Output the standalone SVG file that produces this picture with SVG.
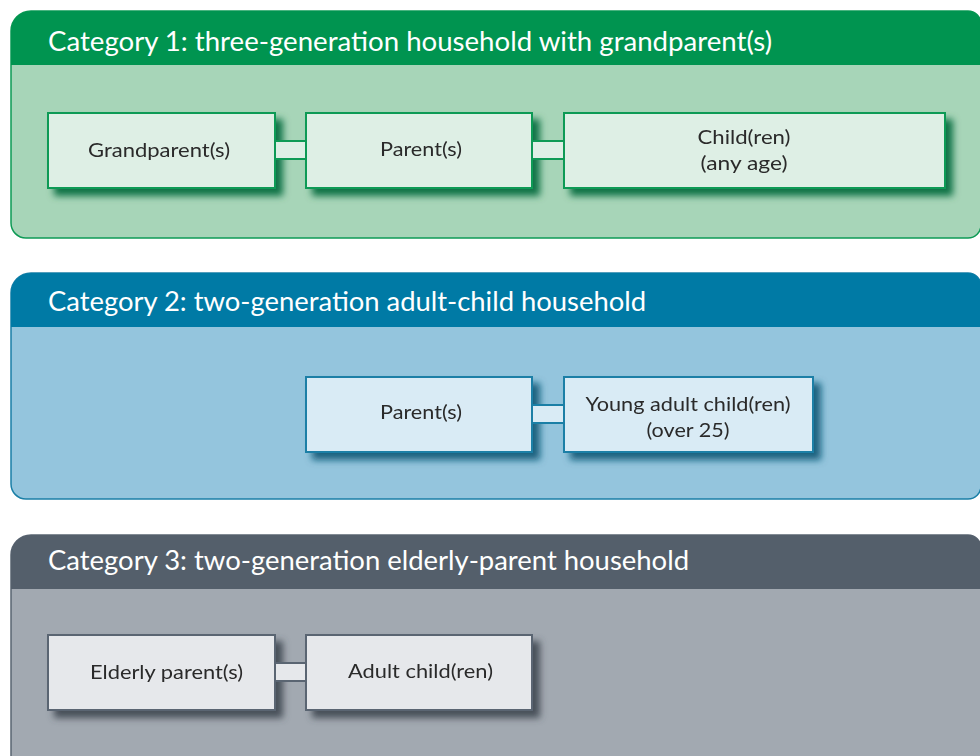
<svg xmlns="http://www.w3.org/2000/svg" width="980" height="756" viewBox="0 0 980 756">
<defs>
<style>
.title{font-family:Lato,"Open Sans","Liberation Sans",sans-serif;font-size:26px;fill:#ffffff;}
.lbl{font-family:Lato,"Open Sans","Liberation Sans",sans-serif;font-size:20px;fill:#2a2a2a;text-anchor:middle;}
.g-node{fill:#deefe5;stroke:#0e9a55;stroke-width:2;}
.b-node{fill:#d9ebf5;stroke:#1a7fa6;stroke-width:2;}
.s-node{fill:#e6e8eb;stroke:#5a6572;stroke-width:2;}
</style>
<filter id="shG" x="-10%" y="-20%" width="130%" height="160%"><feDropShadow dx="7" dy="7" stdDeviation="3.5" flood-color="#05693a" flood-opacity="0.9"/></filter>
<filter id="shB" x="-10%" y="-20%" width="130%" height="160%"><feDropShadow dx="7" dy="7" stdDeviation="3.5" flood-color="#0b5676" flood-opacity="0.9"/></filter>
<filter id="shS" x="-10%" y="-20%" width="130%" height="160%"><feDropShadow dx="7" dy="7" stdDeviation="3.5" flood-color="#3c4550" flood-opacity="0.9"/></filter>
</defs>

<!-- Panel 1 -->
<g id="panel1">
<path d="M11,31 a20,20 0 0 1 20,-20 H968 a13,13 0 0 1 13,13 V225 a13,13 0 0 1 -13,13 H26 a15,15 0 0 1 -15,-15 Z" fill="#a7d5b8" stroke="#0e9a55" stroke-width="1.5"/>
<path d="M11,65 V31 a20,20 0 0 1 20,-20 H968 a13,13 0 0 1 13,13 V65 Z" fill="#009450"/>
<text class="title" x="48" y="51" textLength="724" lengthAdjust="spacingAndGlyphs">Category 1: three-generation household with grandparent(s)</text>
</g>

<!-- Panel 2 -->
<g id="panel2">
<path d="M11,293 a20,20 0 0 1 20,-20 H968 a13,13 0 0 1 13,13 V486 a13,13 0 0 1 -13,13 H26 a15,15 0 0 1 -15,-15 Z" fill="#94c5dd" stroke="#1a7fa6" stroke-width="1.5"/>
<path d="M11,327 V293 a20,20 0 0 1 20,-20 H968 a13,13 0 0 1 13,13 V327 Z" fill="#007aa5"/>
<text class="title" x="48" y="311" textLength="598" lengthAdjust="spacingAndGlyphs">Category 2: two-generation adult-child household</text>
</g>

<!-- Panel 3 -->
<g id="panel3">
<path d="M11,555 a20,20 0 0 1 20,-20 H968 a13,13 0 0 1 13,13 V770 H11 Z" fill="#a2a9b1" stroke="#5a6572" stroke-width="1.5"/>
<path d="M11,589 V555 a20,20 0 0 1 20,-20 H968 a13,13 0 0 1 13,13 V589 Z" fill="#545f6b"/>
<text class="title" x="48" y="570" textLength="641" lengthAdjust="spacingAndGlyphs">Category 3: two-generation elderly-parent household</text>
</g>

<!-- Nodes -->
<g id="grandparents" filter="url(#shG)">
<rect class="g-node" x="48" y="113" width="227" height="75"/>
<text class="lbl" x="159" y="157" textLength="142" lengthAdjust="spacingAndGlyphs">Grandparent(s)</text>
</g>
<g id="parents1" filter="url(#shG)">
<rect class="g-node" x="306" y="113" width="226" height="75"/>
<text class="lbl" x="421" y="156" textLength="82" lengthAdjust="spacingAndGlyphs">Parent(s)</text>
</g>
<g id="children1" filter="url(#shG)">
<rect class="g-node" x="564" y="113" width="381" height="75"/>
<text class="lbl" x="744" y="144" textLength="93" lengthAdjust="spacingAndGlyphs">Child(ren)</text>
<text class="lbl" x="744" y="170" textLength="87" lengthAdjust="spacingAndGlyphs">(any age)</text>
</g>

<g id="parents2" filter="url(#shB)">
<rect class="b-node" x="306" y="377" width="226" height="75"/>
<text class="lbl" x="421" y="419" textLength="82" lengthAdjust="spacingAndGlyphs">Parent(s)</text>
</g>
<g id="youngadult" filter="url(#shB)">
<rect class="b-node" x="564" y="377" width="249" height="75"/>
<text class="lbl" x="688" y="411" textLength="205" lengthAdjust="spacingAndGlyphs">Young adult child(ren)</text>
<text class="lbl" x="688" y="437" textLength="83" lengthAdjust="spacingAndGlyphs">(over 25)</text>
</g>

<g id="elderly" filter="url(#shS)">
<rect class="s-node" x="48" y="635" width="227" height="75"/>
<text class="lbl" x="166.5" y="679" textLength="153" lengthAdjust="spacingAndGlyphs">Elderly parent(s)</text>
</g>
<g id="adultchild" filter="url(#shS)">
<rect class="s-node" x="306" y="635" width="226" height="75"/>
<text class="lbl" x="420.5" y="678" textLength="145" lengthAdjust="spacingAndGlyphs">Adult child(ren)</text>
</g>

<!-- Connectors -->
<g id="connectors">
<g>
<rect x="276" y="141" width="29" height="18" fill="#deefe5"/>
<path d="M276,141 H305 M276,159 H305" stroke="#0e9a55" stroke-width="2" fill="none"/>
</g>
<g>
<rect x="533" y="141" width="30" height="18" fill="#deefe5"/>
<path d="M533,141 H563 M533,159 H563" stroke="#0e9a55" stroke-width="2" fill="none"/>
</g>
<g>
<rect x="533" y="405" width="30" height="18" fill="#d9ebf5"/>
<path d="M533,405 H563 M533,423 H563" stroke="#1a7fa6" stroke-width="2" fill="none"/>
</g>
<g>
<rect x="276" y="663" width="29" height="18" fill="#e6e8eb"/>
<path d="M276,663 H305 M276,681 H305" stroke="#5a6572" stroke-width="2" fill="none"/>
</g>
</g>
</svg>
